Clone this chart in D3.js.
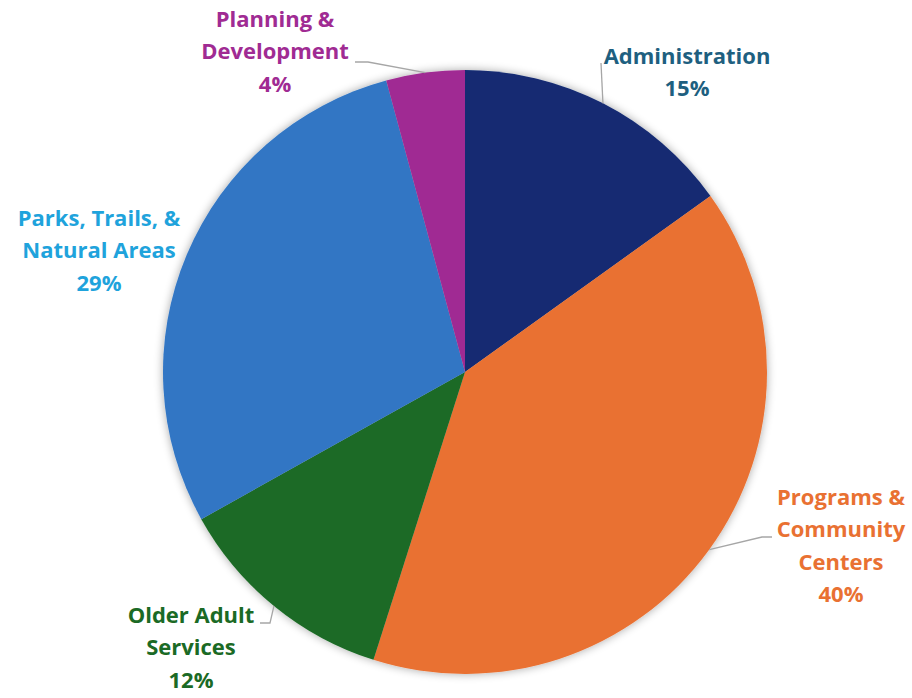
<!DOCTYPE html>
<html>
<head>
<meta charset="utf-8">
<script src="https://cdn.jsdelivr.net/npm/d3@7"></script>
<style>
  html, body { margin: 0; padding: 0; background: #fff; }
  svg { display: block; }
  text { font-family: "Open Sans", Lato, sans-serif; font-weight: bold; }
</style>
</head>
<body>
<svg id="chart" width="912" height="698"></svg>
<script>
// ---- data ----
const categories = ["Administration", "Programs & Community Centers", "Older Adult Services", "Parks, Trails, & Natural Areas", "Planning & Development"];
const values = [15.1, 39.8, 12.0, 28.9, 4.2];
const percentLabels = ["15%", "40%", "12%", "29%", "4%"];
const labelLines = [
  ["Administration", "15%"],
  ["Programs &", "Community", "Centers", "40%"],
  ["Older Adult", "Services", "12%"],
  ["Parks, Trails, &", "Natural Areas", "29%"],
  ["Planning &", "Development", "4%"]
];

// ---- styles / layout ----
const sliceColors = ["#132B72", "#E97132", "#1B6A25", "#3176C4", "#A02B93"];
const labelColors = ["#1E5F80", "#E97132", "#1B6A25", "#1FA3DC", "#A02B93"];
const labelPos = [ [687, 56], [841, 497], [191, 615], [99, 218], [275, 19] ]; // first-line centres
const lineGap = 32.5;
const leaderStart = [ [601, 63, 601, 63], [772, 537, 762, 537], [260, 623, 270, 623], null, [355, 62, 368, 62] ];

const W = 912, H = 698, cx = 465, cy = 372, R = 302;
const svg = d3.select("#chart");

const defs = svg.append("defs");
const f = defs.append("filter").attr("id", "shadow").attr("x", "-20%").attr("y", "-20%").attr("width", "140%").attr("height", "140%");
f.append("feGaussianBlur").attr("in", "SourceAlpha").attr("stdDeviation", 5).attr("result", "b");
f.append("feComponentTransfer").attr("in", "b").attr("result", "t")
  .append("feFuncA").attr("type", "linear").attr("slope", 0.35);
const m = f.append("feMerge");
m.append("feMergeNode").attr("in", "t");
m.append("feMergeNode").attr("in", "SourceGraphic");

const pie = d3.pie().sort(null).value(d => d)(values);
const arc = d3.arc().innerRadius(0).outerRadius(R);

const g = svg.append("g").attr("transform", `translate(${cx},${cy})`);
g.append("g").attr("filter", "url(#shadow)")
  .selectAll("path").data(pie).join("path")
  .attr("d", arc)
  .attr("fill", (d, i) => sliceColors[i]);

// leader lines
pie.forEach((d, i) => {
  if (!leaderStart[i]) return;
  const mid = (d.startAngle + d.endAngle) / 2;
  const ex = cx + R * Math.sin(mid), ey = cy - R * Math.cos(mid);
  const s = leaderStart[i];
  svg.append("polyline")
    .attr("points", `${s[0]},${s[1]} ${s[2]},${s[3]} ${ex},${ey}`)
    .attr("fill", "none").attr("stroke", "#A6A6A6").attr("stroke-width", 1.3);
});

// labels
labelLines.forEach((lines, i) => {
  const t = svg.append("text")
    .attr("text-anchor", "middle")
    .attr("fill", labelColors[i])
    .attr("font-size", 22);
  lines.forEach((ln, j) => {
    t.append("tspan").attr("x", labelPos[i][0]).attr("y", labelPos[i][1] + j * lineGap)
      .attr("dy", "0.35em").text(ln);
  });
});
</script>
</body>
</html>
